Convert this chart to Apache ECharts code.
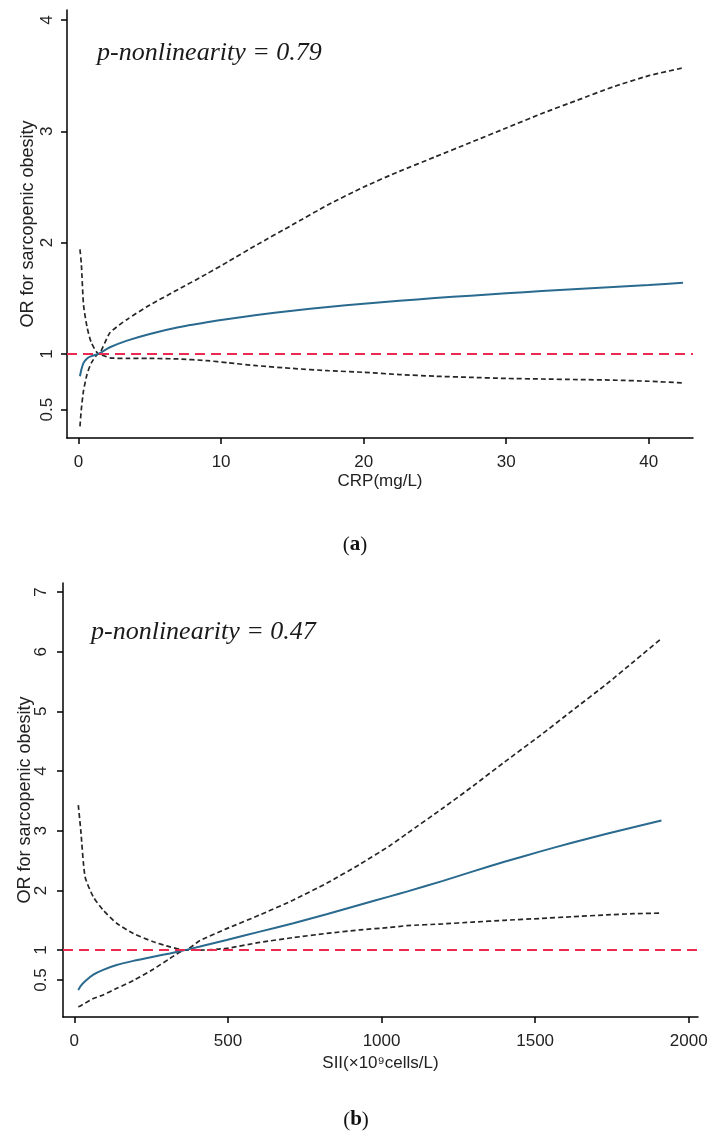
<!DOCTYPE html>
<html>
<head>
<meta charset="utf-8">
<script src="https://cdn.jsdelivr.net/npm/echarts@6/dist/echarts.min.js"></script>
<style>
  html, body { margin: 0; padding: 0; background: #fff; }
  #chart_box { width: 708px; height: 1135px; }
</style>
</head>
<body>
<div id="chart_box"></div>
<script>
// (a) CRP, mg/L
var crpX     = [0.1, 0.2, 0.35, 0.6, 0.9, 1.4, 2.2, 3.4, 5, 7, 9, 10.5, 12.5, 15, 17.5, 20, 22.5, 25, 27.5, 30, 32.5, 35, 37.5, 40, 42.4];
var crpOR    = [0.80, 0.86, 0.92, 0.96, 0.98, 1.0, 1.06, 1.12, 1.18, 1.24, 1.285, 1.315, 1.35, 1.388, 1.422, 1.452, 1.478, 1.502, 1.524, 1.545, 1.565, 1.584, 1.602, 1.62, 1.64];
var crpUpper = [1.94, 1.80, 1.44, 1.24, 1.10, 1.0, 1.19, 1.31, 1.44, 1.58, 1.72, 1.83, 1.98, 2.16, 2.34, 2.50, 2.64, 2.77, 2.90, 3.03, 3.16, 3.28, 3.40, 3.50, 3.57];
var crpLower = [0.35, 0.51, 0.67, 0.82, 0.92, 1.0, 0.965, 0.96, 0.96, 0.955, 0.94, 0.92, 0.895, 0.87, 0.85, 0.835, 0.815, 0.80, 0.79, 0.78, 0.775, 0.77, 0.765, 0.755, 0.74];
var crpTicksX = [0, 10, 20, 30, 40];
var crpTicksY = [0.5, 1, 2, 3, 4];

// (b) SII, x10^9 cells/L
var siiX     = [13, 21, 35, 62, 94, 138, 192, 257, 311, 360, 409, 496, 604, 713, 821, 930, 1027, 1082, 1200, 1298, 1400, 1515, 1620, 1733, 1820, 1911];
var siiOR    = [0.33, 0.40, 0.48, 0.59, 0.67, 0.75, 0.82, 0.89, 0.945, 1.0, 1.06, 1.17, 1.31, 1.45, 1.60, 1.76, 1.90, 1.98, 2.16, 2.32, 2.48, 2.65, 2.80, 2.95, 3.06, 3.17];
var siiUpper = [3.43, 3.01, 2.23, 1.89, 1.67, 1.45, 1.28, 1.14, 1.055, 1.0, 1.16, 1.36, 1.59, 1.84, 2.12, 2.44, 2.75, 2.95, 3.38, 3.75, 4.15, 4.59, 5.01, 5.46, 5.83, 6.22];
var siiLower = [0.05, 0.07, 0.11, 0.19, 0.25, 0.36, 0.49, 0.68, 0.86, 1.0, 1.0, 1.03, 1.13, 1.21, 1.28, 1.34, 1.38, 1.41, 1.44, 1.47, 1.50, 1.53, 1.56, 1.59, 1.61, 1.62];
var siiTicksX = [0, 500, 1000, 1500, 2000];
var siiTicksY = [0.5, 1, 2, 3, 4, 5, 6, 7];

var refOR = 1; // 参考线

function pairs(xs, ys) {
  return xs.map(function (x, i) { return [x, ys[i]]; });
}

function plain(v) { return String(v); }

var labelFont = { fontFamily: '"Liberation Sans", Arial, sans-serif', color: '#222' };

function xAxisOf(idx, min, max, ticks, name, gap) {
  return {
    type: 'value', gridIndex: idx, min: min, max: max,
    name: name, nameLocation: 'middle', nameGap: gap,
    nameTextStyle: Object.assign({ fontSize: 17 }, labelFont),
    axisLine: { show: true, onZero: false, lineStyle: { color: '#000', width: 1.5 } },
    axisTick: { show: true, length: 6, lineStyle: { color: '#000', width: 1.5 }, customValues: ticks },
    axisLabel: Object.assign({ fontSize: 17, margin: 16, customValues: ticks, formatter: plain }, labelFont),
    splitLine: { show: false }
  };
}

function yAxisOf(idx, min, max, ticks, gap, margin) {
  return {
    type: 'value', gridIndex: idx, min: min, max: max,
    name: 'OR for sarcopenic obesity', nameLocation: 'middle', nameGap: gap,
    nameMoveOverlap: false,
    nameTextStyle: Object.assign({ fontSize: 18 }, labelFont),
    axisLine: { show: true, onZero: false, lineStyle: { color: '#000', width: 1.5 } },
    axisTick: { show: true, length: 6, lineStyle: { color: '#000', width: 1.5 }, customValues: ticks },
    axisLabel: Object.assign({ fontSize: 17, rotate: 90, margin: margin, customValues: ticks, formatter: plain }, labelFont),
    splitLine: { show: false }
  };
}

function curves(idx, xs, est, up, lo) {
  var dashed = { color: '#262626', width: 1.7, type: [5, 3] };
  return [
    {
      type: 'line', xAxisIndex: idx, yAxisIndex: idx, data: pairs(xs, up),
      showSymbol: false, smooth: 0.2, lineStyle: dashed, z: 3
    },
    {
      type: 'line', xAxisIndex: idx, yAxisIndex: idx, data: pairs(xs, lo),
      showSymbol: false, smooth: 0.2, lineStyle: dashed, z: 3
    },
    {
      type: 'line', xAxisIndex: idx, yAxisIndex: idx, data: pairs(xs, est),
      showSymbol: false, smooth: 0.2,
      lineStyle: { color: '#2a6a8f', width: 2 }, z: 4,
      markLine: {
        silent: true, symbol: 'none', label: { show: false },
        lineStyle: { color: '#ec2a50', width: 2, type: [10, 6] },
        data: [{ yAxis: refOR }]
      }
    }
  ];
}

var mycharts = echarts.init(document.getElementById('chart_box'), null, { renderer: 'canvas' });

var option = {
  backgroundColor: '#fff',
  animation: false,
  grid: [
    { left: 67, top: 10, width: 626, height: 428, outerBoundsMode: 'none' },
    { left: 63, top: 583, width: 635, height: 434, outerBoundsMode: 'none' }
  ],
  xAxis: [
    xAxisOf(0, -0.81, 43.1, crpTicksX, 'CRP(mg/L)', 35),
    xAxisOf(1, -36.8, 2030, siiTicksX, 'SII(×10⁹cells/L)', 38)
  ],
  yAxis: [
    yAxisOf(0, 0.245, 4.09, crpTicksY, 30, 11),
    yAxisOf(1, -0.12, 7.15, siiTicksY, 29, 13)
  ],
  series: curves(0, crpX, crpOR, crpUpper, crpLower).concat(curves(1, siiX, siiOR, siiUpper, siiLower)),
  graphic: [
    {
      type: 'text', x: 97, y: 53,
      style: { text: 'p-nonlinearity = 0.79', font: 'italic 26px "Liberation Serif", serif', fill: '#1a1a1a', verticalAlign: 'middle' }
    },
    {
      type: 'text', x: 91, y: 632,
      style: { text: 'p-nonlinearity = 0.47', font: 'italic 26px "Liberation Serif", serif', fill: '#1a1a1a', verticalAlign: 'middle' }
    },
    {
      type: 'text', x: 355, y: 545,
      style: {
        text: '({b|a})', font: '21px "Liberation Serif", serif', fill: '#111',
        align: 'center', verticalAlign: 'middle',
        rich: { b: { fontWeight: 'bold', fontSize: 21, fontFamily: '"Liberation Serif", serif' } }
      }
    },
    {
      type: 'text', x: 356, y: 1120,
      style: {
        text: '({b|b})', font: '21px "Liberation Serif", serif', fill: '#111',
        align: 'center', verticalAlign: 'middle',
        rich: { b: { fontWeight: 'bold', fontSize: 21, fontFamily: '"Liberation Serif", serif' } }
      }
    }
  ]
};

mycharts.setOption(option);
</script>
</body>
</html>
